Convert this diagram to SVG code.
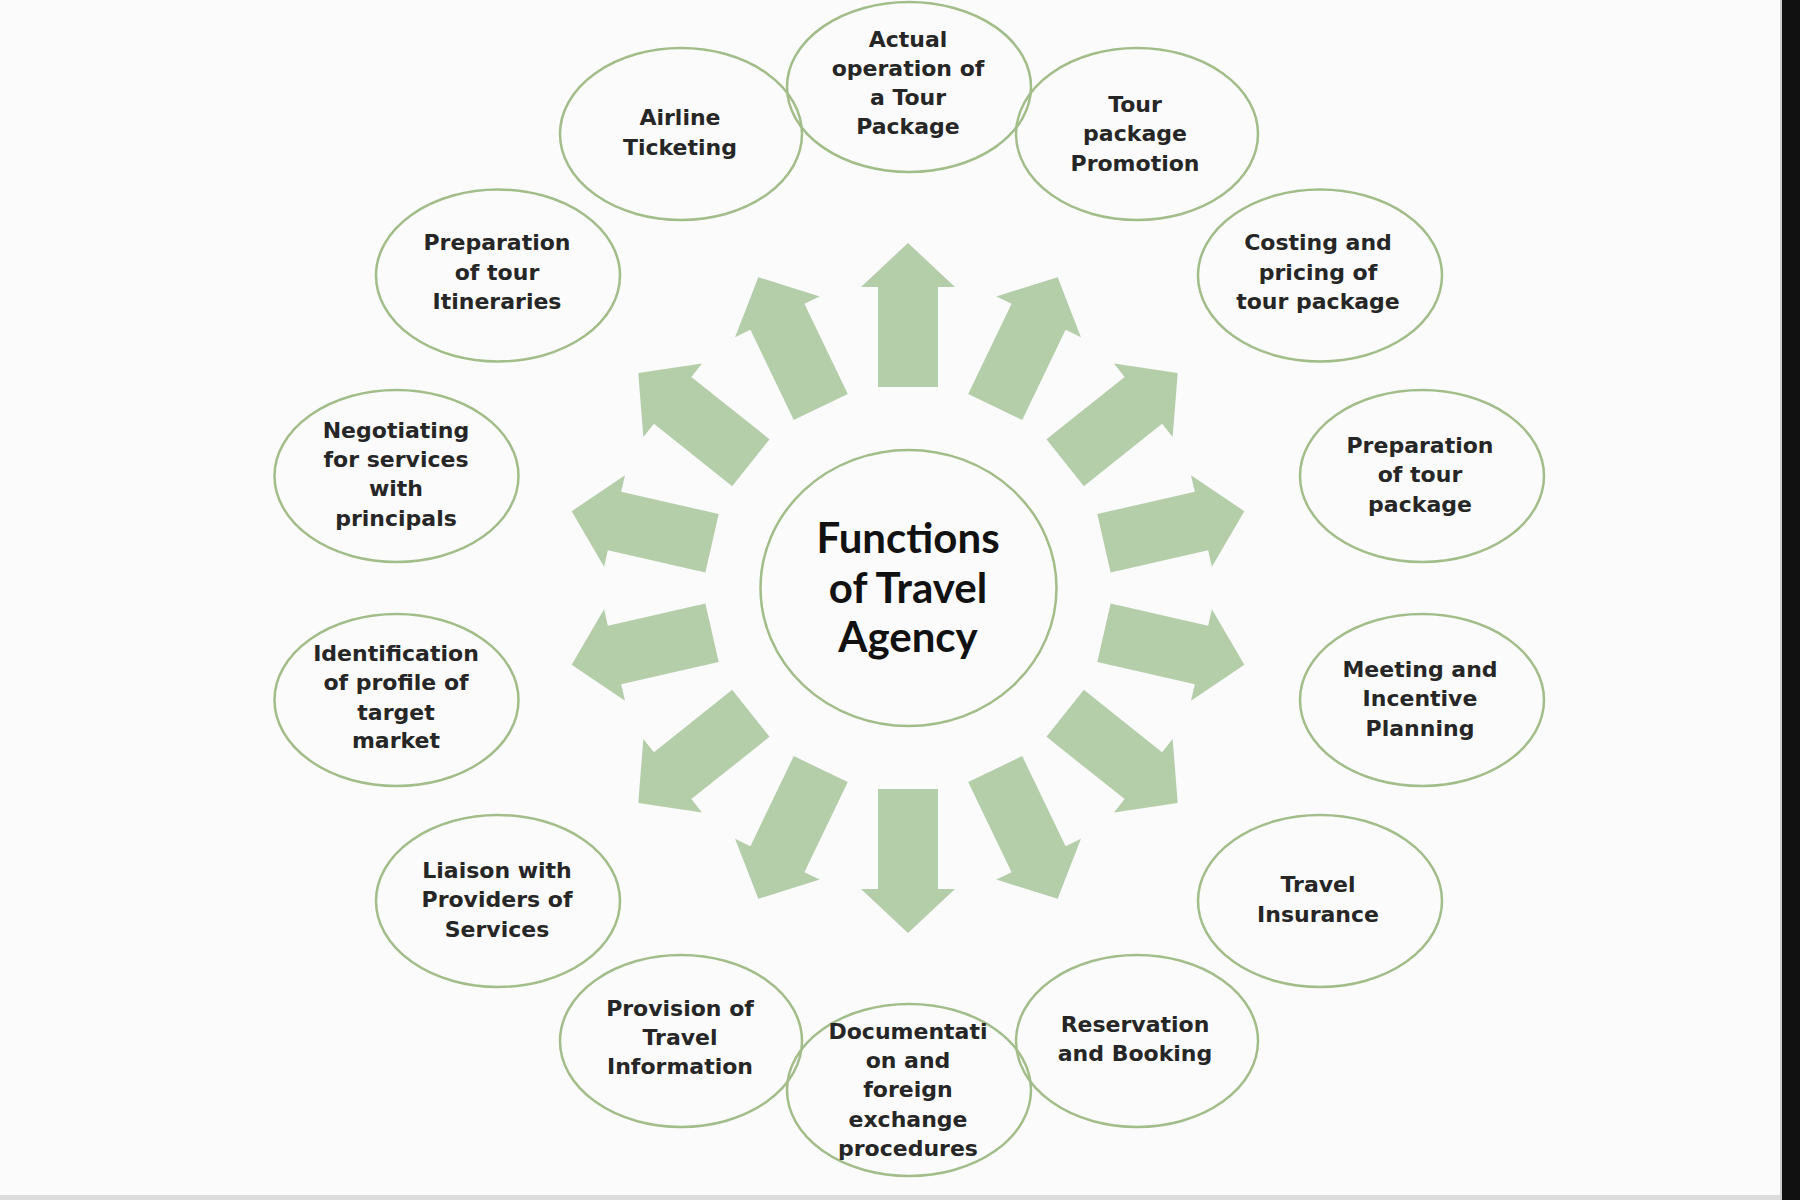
<svg xmlns="http://www.w3.org/2000/svg" xmlns:xlink="http://www.w3.org/1999/xlink" width="1800" height="1200" viewBox="0 0 1800 1200">
<style>
.bg{fill:#fbfbfb}
.node{fill:none;stroke:#a2bd89;stroke-width:2.5}
.lbl{font-family:"DejaVu Sans","Liberation Sans",sans-serif;font-weight:bold;font-size:22px;fill:#262626;text-anchor:middle}
.ctr{font-family:Lato,"Liberation Sans",sans-serif;font-weight:bold;font-size:42px;fill:#111;text-anchor:middle}
.arrow{fill:#b5ceaa}
</style>
<defs>
<path id="arr" class="arrow" d="M -30,-201 L -30,-301 L -47,-301 L 0,-345 L 47,-301 L 30,-301 L 30,-201 Z"/>
</defs>
<rect class="bg" x="0" y="0" width="1800" height="1200"/>
<rect x="0" y="1195" width="1782" height="5" fill="#dcdcdc"/>
<rect x="1780" y="0" width="2" height="1200" fill="#cfcfcf"/>
<rect x="1782" y="0" width="18" height="1200" fill="#111"/>

<g id="connectors">
<use xlink:href="#arr" href="#arr" transform="translate(908,588) rotate(0)"/>
<use xlink:href="#arr" href="#arr" transform="translate(908,588) rotate(25.714)"/>
<use xlink:href="#arr" href="#arr" transform="translate(908,588) rotate(51.429)"/>
<use xlink:href="#arr" href="#arr" transform="translate(908,588) rotate(77.143)"/>
<use xlink:href="#arr" href="#arr" transform="translate(908,588) rotate(102.857)"/>
<use xlink:href="#arr" href="#arr" transform="translate(908,588) rotate(128.571)"/>
<use xlink:href="#arr" href="#arr" transform="translate(908,588) rotate(154.286)"/>
<use xlink:href="#arr" href="#arr" transform="translate(908,588) rotate(180)"/>
<use xlink:href="#arr" href="#arr" transform="translate(908,588) rotate(205.714)"/>
<use xlink:href="#arr" href="#arr" transform="translate(908,588) rotate(231.429)"/>
<use xlink:href="#arr" href="#arr" transform="translate(908,588) rotate(257.143)"/>
<use xlink:href="#arr" href="#arr" transform="translate(908,588) rotate(282.857)"/>
<use xlink:href="#arr" href="#arr" transform="translate(908,588) rotate(308.571)"/>
<use xlink:href="#arr" href="#arr" transform="translate(908,588) rotate(334.286)"/>
</g>

<g id="center">
<ellipse class="node" cx="908.5" cy="588" rx="148" ry="138"/>
<text class="ctr" x="908" y="553">Functions</text>
<text class="ctr" x="908" y="603">of Travel</text>
<text class="ctr" x="908" y="652">Agency</text>
</g>

<g id="n-actual">
<ellipse class="node" cx="909" cy="87" rx="122" ry="85"/>
<text class="lbl" x="908" y="47">Actual</text>
<text class="lbl" x="908" y="76">operation of</text>
<text class="lbl" x="908" y="105">a Tour</text>
<text class="lbl" x="908" y="134">Package</text>
</g>

<g id="n-airline">
<ellipse class="node" cx="681" cy="134" rx="121" ry="86"/>
<text class="lbl" x="680" y="125">Airline</text>
<text class="lbl" x="680" y="155">Ticketing</text>
</g>

<g id="n-promotion">
<ellipse class="node" cx="1137" cy="134" rx="121" ry="86"/>
<text class="lbl" x="1135" y="112">Tour</text>
<text class="lbl" x="1135" y="141">package</text>
<text class="lbl" x="1135" y="171">Promotion</text>
</g>

<g id="n-itineraries">
<ellipse class="node" cx="498" cy="275.5" rx="122" ry="86"/>
<text class="lbl" x="497" y="250">Preparation</text>
<text class="lbl" x="497" y="280">of tour</text>
<text class="lbl" x="497" y="309">Itineraries</text>
</g>

<g id="n-costing">
<ellipse class="node" cx="1320" cy="275.5" rx="122" ry="86"/>
<text class="lbl" x="1318" y="250">Costing and</text>
<text class="lbl" x="1318" y="280">pricing of</text>
<text class="lbl" x="1318" y="309">tour package</text>
</g>

<g id="n-negotiating">
<ellipse class="node" cx="396.5" cy="476" rx="122" ry="86"/>
<text class="lbl" x="396" y="438">Negotiating</text>
<text class="lbl" x="396" y="467">for services</text>
<text class="lbl" x="396" y="496">with</text>
<text class="lbl" x="396" y="526">principals</text>
</g>

<g id="n-package">
<ellipse class="node" cx="1422" cy="476" rx="122" ry="86"/>
<text class="lbl" x="1420" y="453">Preparation</text>
<text class="lbl" x="1420" y="482">of tour</text>
<text class="lbl" x="1420" y="512">package</text>
</g>

<g id="n-identification">
<ellipse class="node" cx="396.5" cy="700" rx="122" ry="86"/>
<text class="lbl" x="396" y="661">Identification</text>
<text class="lbl" x="396" y="690">of profile of</text>
<text class="lbl" x="396" y="720">target</text>
<text class="lbl" x="396" y="748">market</text>
</g>

<g id="n-meeting">
<ellipse class="node" cx="1422" cy="700" rx="122" ry="86"/>
<text class="lbl" x="1420" y="677">Meeting and</text>
<text class="lbl" x="1420" y="706">Incentive</text>
<text class="lbl" x="1420" y="736">Planning</text>
</g>

<g id="n-liaison">
<ellipse class="node" cx="498" cy="901" rx="122" ry="86"/>
<text class="lbl" x="497" y="878">Liaison with</text>
<text class="lbl" x="497" y="907">Providers of</text>
<text class="lbl" x="497" y="937">Services</text>
</g>

<g id="n-insurance">
<ellipse class="node" cx="1320" cy="901" rx="122" ry="86"/>
<text class="lbl" x="1318" y="892">Travel</text>
<text class="lbl" x="1318" y="922">Insurance</text>
</g>

<g id="n-provision">
<ellipse class="node" cx="681" cy="1041" rx="121" ry="86"/>
<text class="lbl" x="680" y="1016">Provision of</text>
<text class="lbl" x="680" y="1045">Travel</text>
<text class="lbl" x="680" y="1074">Information</text>
</g>

<g id="n-reservation">
<ellipse class="node" cx="1137" cy="1041" rx="121" ry="86"/>
<text class="lbl" x="1135" y="1032">Reservation</text>
<text class="lbl" x="1135" y="1061">and Booking</text>
</g>

<g id="n-documentation">
<ellipse class="node" cx="909" cy="1090" rx="122" ry="86"/>
<text class="lbl" x="908" y="1039">Documentati</text>
<text class="lbl" x="908" y="1068">on and</text>
<text class="lbl" x="908" y="1097">foreign</text>
<text class="lbl" x="908" y="1127">exchange</text>
<text class="lbl" x="908" y="1156">procedures</text>
</g>
</svg>
